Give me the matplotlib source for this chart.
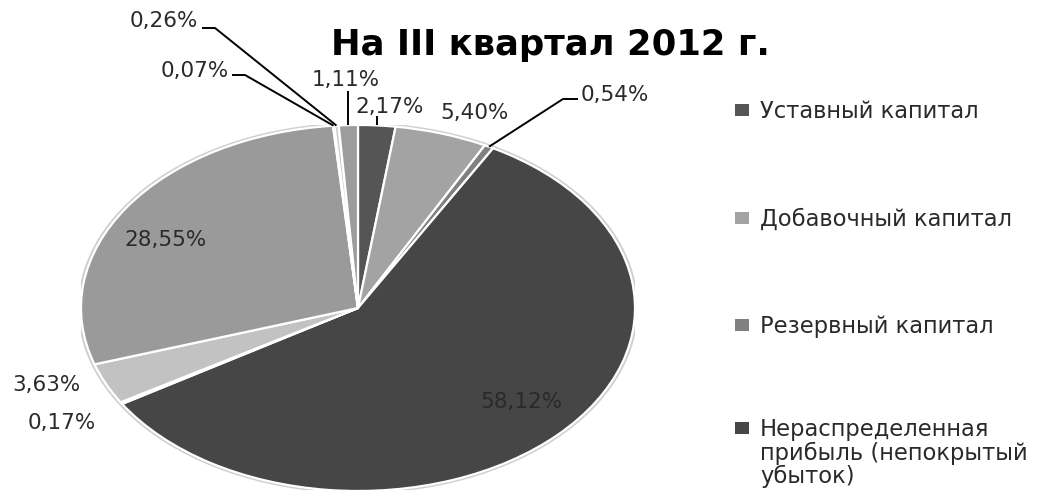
import matplotlib
matplotlib.use("Agg")
import matplotlib.pyplot as plt
from matplotlib.patches import Ellipse, Rectangle
import numpy as np

plt.rcParams['font.family'] = ['DejaVu Sans']

# Capital structure for Q3 2012, percent of total
shares = [2.17, 5.40, 0.54, 58.12, 0.17, 3.63, 28.55, 0.07, 0.26, 1.11]
share_labels = ["2,17%", "5,40%", "0,54%", "58,12%", "0,17%", "3,63%",
                "28,55%", "0,07%", "0,26%", "1,11%"]
slice_colors = ["#555555", "#a3a3a3", "#808080", "#464646", "#e4e4e4",
                "#c2c2c2", "#9a9a9a", "#eeeeee", "#d2d2d2", "#9c9c9c"]
legend_names = ["Уставный капитал", "Добавочный капитал", "Резервный капитал",
                "Нераспределенная\nприбыль (непокрытый\nубыток)"]
title = "На III квартал 2012 г."

W, H = 1051, 490
fig = plt.figure(figsize=(W / 100, H / 100), dpi=100)

# pie drawn in a stretched axes: centre (358, 308) px, radii 277 x 183 px
cx, cy, rx, ry = 358, 308, 277, 183
ax = fig.add_axes([(cx - rx) / W, (H - cy - ry) / H, 2 * rx / W, 2 * ry / H])

wedges, _ = ax.pie(shares, colors=slice_colors, startangle=90, counterclock=False,
                   wedgeprops=dict(edgecolor="white", linewidth=1.6))
ax.add_patch(Ellipse((0, 0), 2.012, 2.012, fill=False, edgecolor="#cfcfcf",
                     linewidth=2.0, zorder=0))
ax.set_xlim(-1, 1)
ax.set_ylim(-1, 1)
ax.set_aspect("auto")
ax.axis("off")
for w in wedges:
    w.set_clip_on(False)


def px(x, y):
    """pixel position -> pie data coordinates"""
    return (x - cx) / rx, (cy - y) / ry


# label layout: text anchor (px), alignment, optional leader elbow (px)
layout = [
    dict(pos=(355, 107), ha="left", leader=[(None, 116)]),
    dict(pos=(440, 113), ha="left", leader=None),
    dict(pos=(581, 95), ha="left", leader=[(563, 99), (578, 99)]),
    dict(pos=(521, 402), ha="center", leader=None),
    dict(pos=(62, 423), ha="center", leader=None),
    dict(pos=(46, 385), ha="center", leader=None),
    dict(pos=(165, 240), ha="center", leader=None),
    dict(pos=(229, 71), ha="right", leader=[(245, 75), (232, 75)]),
    dict(pos=(198, 21), ha="right", leader=[(215, 28), (202, 28)]),
    dict(pos=(346, 80), ha="center", leader=[(None, 91)]),
]

label_color = "#2a2a2a"
for w, lab, lay in zip(wedges, share_labels, layout):
    mid = np.deg2rad((w.theta1 + w.theta2) / 2)
    ax_, ay_ = np.cos(mid), np.sin(mid)
    if lay["leader"]:
        xs, ys = [ax_], [ay_]
        for ex, ey in lay["leader"]:
            dx, dy = px(ex if ex is not None else cx + ax_ * rx, ey)
            xs.append(dx)
            ys.append(dy)
        ax.plot(xs, ys, color="black", linewidth=1.4, clip_on=False,
                solid_capstyle="butt")
    tx, ty = px(*lay["pos"])
    ax.text(tx, ty, lab, ha=lay["ha"], va="center", fontsize=15.5,
            color=label_color, clip_on=False)

fig.text(550 / W, 1 - 45 / H, title, ha="center", va="center",
         fontsize=25.5, fontweight="bold", color="black")

# legend: square marker beside the first line of each entry
legend_rows = [110, 218, 325, 428]
for w, name, row in zip(wedges, legend_names, legend_rows):
    fig.patches.append(Rectangle((735 / W, 1 - (row + 6) / H), 14 / W, 12 / H,
                                 transform=fig.transFigure,
                                 facecolor=w.get_facecolor(), edgecolor="none"))
    fig.text(760 / W, 1 - (row - 10) / H, name, ha="left", va="top",
             fontsize=16.3, color="#2a2a2a", linespacing=1.02)

fig.savefig("out.png", dpi=100)
